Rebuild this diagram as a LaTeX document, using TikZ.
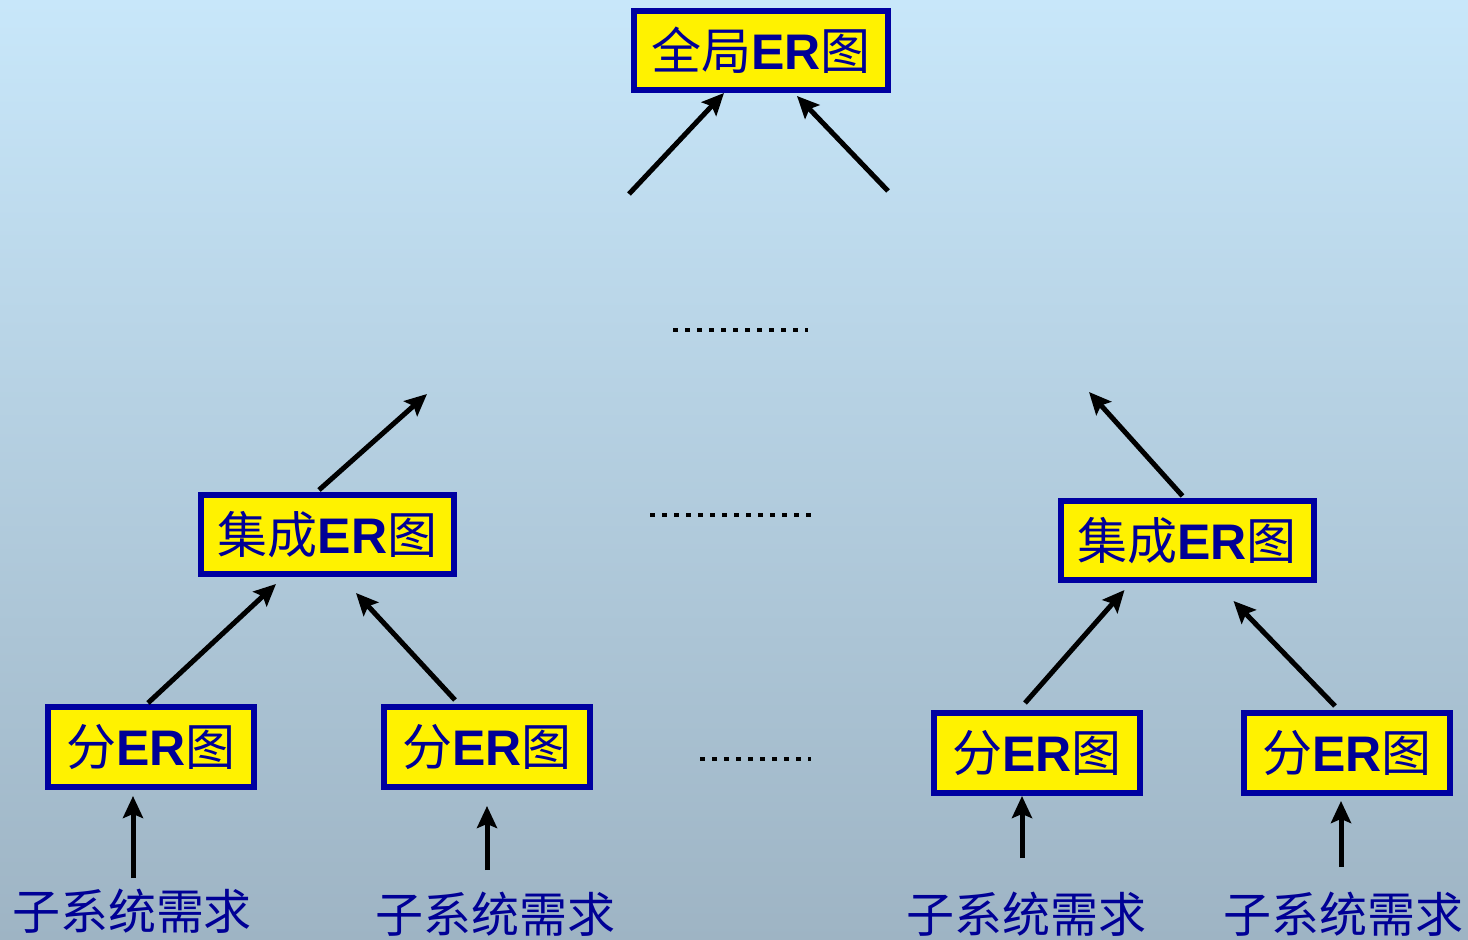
\documentclass[tikz,border=0pt]{standalone}
\usepackage{fontspec}
\setmainfont{Liberation Sans}
\newfontfamily\cjk{Noto Sans CJK SC}
\usepackage{xcolor}
\definecolor{BgTop}{RGB}{200,231,250}
\definecolor{BgBot}{RGB}{158,180,196}
\definecolor{ColB}{RGB}{0,0,160}
\definecolor{ColT}{RGB}{0,0,150}
\usepackage{tikz}
\usetikzlibrary{arrows.meta}
\tikzstyle{Box}=[draw=ColB,fill=yellow,line width=3pt,inner sep=0pt,
minimum width=127pt,minimum height=39.5pt,text=ColT,font=\fontsize{25}{30}\selectfont]
\tikzstyle{SubBox}=[Box,minimum width=103pt,minimum height=40pt]
\tikzstyle{Req}=[inner sep=0pt,text=ColT,font=\cjk\fontsize{24}{28}\selectfont]
\tikzstyle{Edge}=[draw=black,line width=2.5pt,
-{Stealth[length=11pt,width=10pt,inset=2pt]}]
\tikzstyle{Dots}=[draw=black,line width=2.4pt,dash pattern=on 2.4pt off 3.6pt]
\newcommand{\ERtext}[1]{{\cjk #1}\textbf{ER}{\cjk 图}}

\begin{document}
\begin{tikzpicture}[x=0.5pt,y=-0.5pt]
        \shade[top color=BgTop,bottom color=BgBot](0,0)rectangle(1468,940);
        % boxes
        \node[Box](top)at(761,50.5){\ERtext{全局}};
        \node[Box,minimum width=126.5pt](jl)at(327.5,534.5){\ERtext{集成}};
        \node[Box,minimum width=126.5pt](jr)at(1187,540.5){\ERtext{集成}};
        \node[SubBox](f1)at(151,747){\ERtext{分}};
        \node[SubBox](f2)at(487,747){\ERtext{分}};
        \node[SubBox](f3)at(1037,753){\ERtext{分}};
        \node[SubBox](f4)at(1347,753){\ERtext{分}};
        % requirements
        \node[Req](r1)at(132,911){子系统需求};
        \node[Req](r2)at(495,914){子系统需求};
        \node[Req](r3)at(1026,914){子系统需求};
        \node[Req](r4)at(1343,914){子系统需求};
        % free ends
        \coordinate(tl)at(629,194);
        \coordinate(tr)at(888,191);
        \coordinate(ul)at(427,394);
        \coordinate(ur)at(1089,392);
        \coordinate(s1)at(133,878);
        \coordinate(s2)at(487,870);
        \coordinate(s3)at(1022,858);
        \coordinate(s4)at(1341,867);
        % edges
        \draw[Edge](tl)--([xshift=46.5pt]top.south west);
        \draw[Edge](tr)--([xshift=83pt,yshift=-1.5pt]top.south west);
        \draw[Edge]([xshift=60.5pt,yshift=1pt]jl.north west)--(ul);
        \draw[Edge]([xshift=62.5pt,yshift=1pt]jr.north west)--(ur);
        \draw[Edge]([xshift=51.5pt,yshift=0.5pt]f1.north west)
            --([xshift=39pt,yshift=-3.5pt]jl.south west);
        \draw[Edge]([xshift=37pt,yshift=2pt]f2.north west)
            --([xshift=79pt,yshift=-8pt]jl.south west);
        \draw[Edge]([xshift=47pt,yshift=3.5pt]f3.north west)
            --([xshift=33.5pt,yshift=-3.5pt]jr.south west);
        \draw[Edge]([xshift=47pt,yshift=2pt]f4.north west)
            --([xshift=88pt,yshift=-9pt]jr.south west);
        \draw[Edge](s1)--([xshift=44pt,yshift=-3pt]f1.south west);
        \draw[Edge](s2)--([xshift=53pt,yshift=-8pt]f2.south west);
        \draw[Edge](s3)--([xshift=45.5pt]f3.south west);
        \draw[Edge](s4)--([xshift=50pt,yshift=-2.5pt]f4.south west);
        % dots
        \draw[Dots](673,330)--(808,330);
        \draw[Dots](650,515)--(813,515);
        \draw[Dots](700,759)--(811,759);
    \end{tikzpicture}
\end{document}
